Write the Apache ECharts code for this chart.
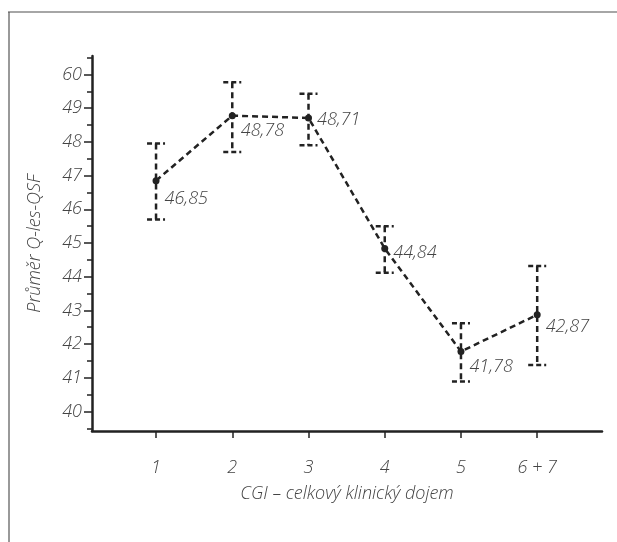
<!DOCTYPE html>
<html>
<head>
<meta charset="utf-8">
<script src="https://cdn.jsdelivr.net/npm/echarts@6/dist/echarts.min.js"></script>
<style>
html, body { margin: 0; padding: 0; background: #fff; }
#main { width: 617px; height: 542px; }
</style>
</head>
<body>
<div id="main"></div>
<script>
// data
var categories = ['1', '2', '3', '4', '5', '6 + 7'];
var means = [46.85, 48.78, 48.71, 44.84, 41.78, 42.87];
var lowErr = [45.70, 47.70, 47.90, 44.12, 40.89, 41.38];
var highErr = [47.95, 49.77, 49.43, 45.50, 42.62, 44.32];
var yTickValues = [40, 41, 42, 43, 44, 45, 46, 47, 48, 49, 50];
var yTickLabels = ['40', '41', '42', '43', '44', '45', '46', '47', '48', '49', '60'];
var yMinorTicks = [39.5, 40.5, 41.5, 42.5, 43.5, 44.5, 45.5, 46.5, 47.5, 48.5, 49.5, 50.5];

// label nudges (px, downward)
var labelShift = [18, 15, 2, 4, 15, 12];

var dark = '#222';
var grey = '#444';
var font = 'Open Sans';
var txt = { fontFamily: font, fontStyle: 'italic', fontWeight: 300, fontSize: 18, color: grey };

var chart = echarts.init(document.getElementById('main'));

var xPos = categories.map(function (c, i) { return i + 1; });

var lineData = means.map(function (v, i) {
    return {
        value: [xPos[i], v],
        label: { offset: [0, labelShift[i]] }
    };
});

var errData = means.map(function (v, i) {
    return [xPos[i], lowErr[i], highErr[i]];
});

option = {
    animation: false,
    backgroundColor: '#fff',
    graphic: [
        { type: 'line', shape: { x1: 8, y1: 12, x2: 617, y2: 12 }, style: { stroke: '#888', lineWidth: 1.5 } },
        { type: 'line', shape: { x1: 9, y1: 12, x2: 9, y2: 542 }, style: { stroke: '#555', lineWidth: 1.2 } }
    ],
    grid: { left: 92, right: 15, top: 56, bottom: 111 },
    xAxis: {
        type: 'value',
        min: 0.16,
        max: 6.85,
        name: 'CGI – celkový klinický dojem',
        nameLocation: 'middle',
        nameGap: 54,
        nameTextStyle: txt,
        splitLine: { show: false },
        axisLine: { lineStyle: { color: dark, width: 2.5 } },
        axisTick: { customValues: xPos, length: 7, lineStyle: { color: dark, width: 1.5 } },
        axisLabel: Object.assign({
            customValues: xPos,
            margin: 28,
            formatter: function (v) { return categories[Math.round(v) - 1]; }
        }, txt)
    },
    yAxis: [{
        type: 'value',
        min: 39.42,
        max: 50.55,
        name: 'Průměr Q-les-QSF',
        nameLocation: 'middle',
        nameGap: 48,
        nameRotate: 90,
        nameTextStyle: txt,
        splitLine: { show: false },
        axisLine: { show: true, lineStyle: { color: dark, width: 2.5 } },
        axisTick: { customValues: yTickValues, length: 8, lineStyle: { color: dark, width: 1.5 } },
        axisLabel: Object.assign({
            customValues: yTickValues,
            margin: 10,
            formatter: function (v) { return yTickLabels[yTickValues.indexOf(Math.round(v))]; }
        }, txt)
    }, {
        type: 'value',
        position: 'left',
        min: 39.42,
        max: 50.55,
        splitLine: { show: false },
        axisLine: { show: false },
        axisTick: { show: true, customValues: yMinorTicks, length: 5, lineStyle: { color: dark, width: 1.5 } },
        axisLabel: { show: false }
    }],
    series: [{
        type: 'custom',
        z: 3,
        data: errData,
        renderItem: function (params, api) {
            var top = api.coord([api.value(0), api.value(2)]);
            var bot = api.coord([api.value(0), api.value(1)]);
            var w = 9;
            var st = { stroke: dark, lineWidth: 2.5, lineDash: [6, 4] };
            var cap = { stroke: dark, lineWidth: 2.5, lineDash: [5, 3] };
            return {
                type: 'group',
                children: [
                    { type: 'line', shape: { x1: top[0], y1: top[1], x2: bot[0], y2: bot[1] }, style: st },
                    { type: 'line', shape: { x1: top[0] - w, y1: top[1], x2: top[0] + w, y2: top[1] }, style: cap },
                    { type: 'line', shape: { x1: bot[0] - w, y1: bot[1], x2: bot[0] + w, y2: bot[1] }, style: cap }
                ]
            };
        }
    }, {
        type: 'line',
        z: 4,
        data: lineData,
        symbol: 'circle',
        symbolSize: 7,
        itemStyle: { color: dark },
        lineStyle: { color: dark, width: 2.5, type: [6, 4] },
        label: Object.assign({
            show: true,
            position: 'right',
            distance: 5,
            formatter: function (p) { return p.value[1].toFixed(2).replace('.', ','); }
        }, txt)
    }]
};

chart.setOption(option);
window.addEventListener('resize', chart.resize);
</script>
</body>
</html>
